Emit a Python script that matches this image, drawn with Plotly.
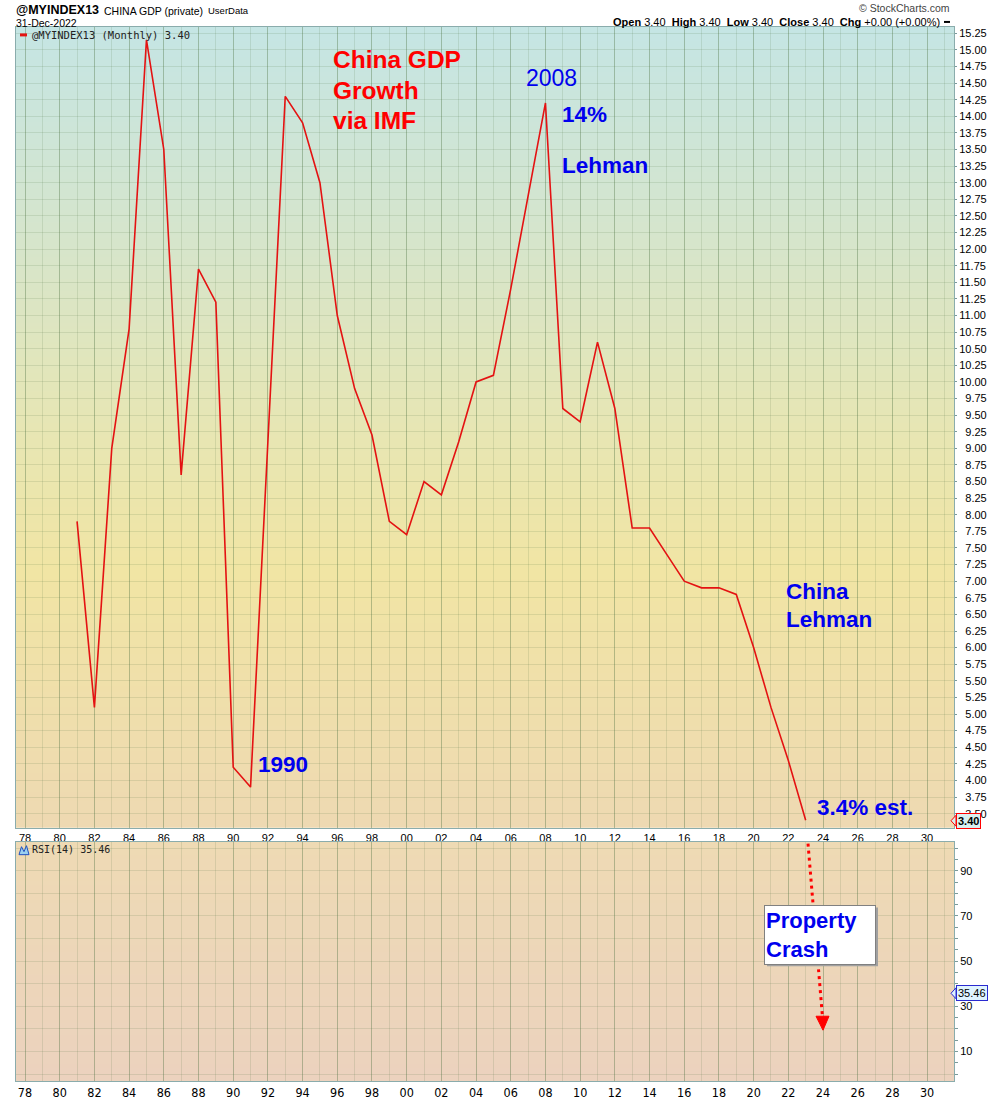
import zlib, struct, base64
import plotly.graph_objects as go

# ---------------- data ----------------
years = list(range(1981, 2024))
growth = [7.9, 5.1, 9.0, 10.8, 15.15, 13.5, 8.6, 11.7, 11.2, 4.2,
          3.9, 9.1, 14.3, 13.9, 13.0, 11.0, 9.9, 9.2, 7.9, 7.7,
          8.5, 8.3, 9.1, 10.0, 10.1, 11.4, 12.8, 14.2, 9.6, 9.4,
          10.6, 9.6, 7.8, 7.8, 7.4, 7.0, 6.9, 6.9, 6.8, 6.0,
          5.1, 4.3, 3.4]
last_value = 3.40
rsi_value = 35.46
date_label = "31-Dec-2022"

x_tick_years = list(range(1978, 2031, 2))
x_tick_text = ["%02d" % (y % 100) for y in x_tick_years]
y_tick_vals = [3.5 + 0.25 * i for i in range(48)]
y_tick_text = [("\u2007" if v < 10 else "") + "%.2f" % v for v in y_tick_vals]
rsi_tick_vals = [0, 5, 10, 15, 20, 25, 30, 35, 40, 45, 50, 55, 60, 65, 70, 75, 80, 85, 90, 95, 100]
rsi_tick_text = ["10" if v == 10 else "30" if v == 30 else "50" if v == 50 else
                 "70" if v == 70 else "90" if v == 90 else "" for v in rsi_tick_vals]

W, H = 1000, 1100
def PX(x): return x / W
def PY(y): return 1 - y / H

# ---------------- gradient background images ----------------
def lerp_stops(stops, n):
    rows = []
    for i in range(n):
        t = i / (n - 1)
        for j in range(len(stops) - 1):
            t0, c0 = stops[j]
            t1, c1 = stops[j + 1]
            if t0 <= t <= t1:
                f = (t - t0) / (t1 - t0) if t1 > t0 else 0
                rows.append(tuple(int(round(c0[k] + (c1[k] - c0[k]) * f)) for k in range(3)))
                break
    return rows

def png_uri(rows, w=2):
    h = len(rows)
    raw = b''.join(b'\x00' + bytes(c) * w for c in rows)
    def chunk(t, d):
        return struct.pack('>I', len(d)) + t + d + struct.pack('>I', zlib.crc32(t + d) & 0xffffffff)
    png = (b'\x89PNG\r\n\x1a\n' + chunk(b'IHDR', struct.pack('>IIBBBBB', w, h, 8, 2, 0, 0, 0))
           + chunk(b'IDAT', zlib.compress(raw)) + chunk(b'IEND', b''))
    return 'data:image/png;base64,' + base64.b64encode(png).decode()

main_stops = [(0.0, (197, 229, 228)), (0.25, (213, 229, 205)), (0.5, (231, 230, 180)),
              (0.68, (241, 229, 164)), (1.0, (238, 217, 178))]
rsi_stops = [(0.0, (238, 218, 180)), (1.0, (236, 210, 190))]

# panel geometry (pixels)
L, R = 16, 954
MT, MB = 27, 830
RT, RB = 844, 1084

fig = go.Figure()
fig.add_trace(go.Scatter(x=years, y=growth, mode='lines',
                         line=dict(color='rgb(228,18,18)', width=1.6),
                         xaxis='x', yaxis='y', showlegend=False, hoverinfo='skip'))
fig.add_trace(go.Scatter(x=[], y=[], mode='lines', xaxis='x2', yaxis='y2',
                         showlegend=False, hoverinfo='skip'))

grid_major = 'rgba(80,115,70,0.28)'
grid_minor = 'rgba(80,115,70,0.15)'
border = '#8aacac'
axfont = dict(family='Liberation Sans, Arial, sans-serif', size=11, color='black')
narrow = dict(family='Liberation Sans Narrow, DejaVu Sans Condensed, Arial Narrow, sans-serif',
              size=12.5, color='black')

xr = [1977.48, 2031.55]
common_x = dict(range=xr, autorange=False, tickmode='array', tickvals=x_tick_years,
                showgrid=True, gridcolor=grid_major, gridwidth=1,
                minor=dict(dtick=1, tick0=1978, showgrid=True, gridcolor=grid_minor, gridwidth=1),
                showline=True, linecolor=border, linewidth=1, mirror=True,
                ticks='', zeroline=False, fixedrange=True)

fig.update_layout(
    width=W, height=H, margin=dict(l=0, r=0, t=0, b=0),
    paper_bgcolor='white', plot_bgcolor='rgba(0,0,0,0)', showlegend=False,
    xaxis=dict(domain=[PX(L), PX(R)], anchor='y', ticktext=x_tick_text,
               tickfont=axfont, **common_x),
    yaxis=dict(domain=[PY(MB), PY(MT)], anchor='x', side='right',
               range=[3.288, 15.345], autorange=False,
               tickmode='array', tickvals=y_tick_vals, ticktext=y_tick_text,
               tickfont=axfont, ticks='outside', ticklen=2, tickcolor='#7a9a9a',
               showgrid=True, gridcolor=grid_minor, gridwidth=1,
               showline=True, linecolor=border, linewidth=1, mirror=True,
               zeroline=False, fixedrange=True),
    xaxis2=dict(domain=[PX(L), PX(R)], anchor='y2', ticktext=x_tick_text,
                tickfont=narrow, **common_x),
    yaxis2=dict(domain=[PY(RB), PY(RT)], anchor='x2', side='right',
                range=[-3.1, 102.9], autorange=False,
                tickmode='array', tickvals=rsi_tick_vals, ticktext=rsi_tick_text,
                tickfont=axfont, ticks='outside', ticklen=3, tickcolor='#7a9a9a',
                showgrid=False,
                showline=True, linecolor=border, linewidth=1, mirror=True,
                zeroline=False, fixedrange=True),
)

# RSI horizontal grid every 10 via minor grid
fig.update_layout(yaxis2=dict(minor=dict(tickmode='array', tickvals=list(range(0, 101, 10)),
                                         showgrid=True, gridcolor=grid_minor, ticks='')))

fig.add_layout_image(dict(source=png_uri(lerp_stops(main_stops, 256)), xref='paper', yref='paper',
                          x=PX(L), y=PY(MT), sizex=PX(R) - PX(L), sizey=PY(MT) - PY(MB),
                          sizing='stretch', layer='below', xanchor='left', yanchor='top'))
fig.add_layout_image(dict(source=png_uri(lerp_stops(rsi_stops, 64)), xref='paper', yref='paper',
                          x=PX(L), y=PY(RT), sizex=PX(R) - PX(L), sizey=PY(RT) - PY(RB),
                          sizing='stretch', layer='below', xanchor='left', yanchor='top'))

def txt(text, x, y, size=11, color='black', family='Liberation Sans, Arial, sans-serif',
        xanchor='left', yanchor='middle', **kw):
    fig.add_annotation(text=text, x=PX(x), y=PY(y), xref='paper', yref='paper',
                       xanchor=xanchor, yanchor=yanchor, showarrow=False,
                       font=dict(size=size, color=color, family=family), **kw)

# header
txt('<b>@MYINDEX13</b>', 14, 10, size=12.5)
txt('CHINA GDP (private)', 102, 11, size=10.5)
txt('UserData', 206, 11, size=9.5)
txt(date_label, 14, 23, size=10.5)
txt('\u00a9 StockCharts.com', 952, 8, size=10.5, color='#444', xanchor='right')
txt('<b>Open</b> %.2f  <b>High</b> %.2f  <b>Low</b> %.2f  <b>Close</b> %.2f  <b>Chg</b> +0.00 (+0.00%%)'
    % (last_value, last_value, last_value, last_value), 942, 22, size=11, xanchor='right')
fig.add_shape(type='line', xref='paper', yref='paper', x0=PX(944), x1=PX(950), y0=PY(22), y1=PY(22),
              line=dict(color='black', width=2))

mono = 'DejaVu Sans Mono, monospace'
fig.add_shape(type='line', xref='paper', yref='paper', x0=PX(20), x1=PX(27), y0=PY(35), y1=PY(35),
              line=dict(color='rgb(228,18,18)', width=3))
txt('@MYINDEX13 (Monthly) %.2f' % last_value, 30, 35, size=10.5, family=mono, color='#222')
fig.add_shape(type='path', xref='paper', yref='paper',
              path='M %f,%f L %f,%f L %f,%f L %f,%f L %f,%f Z' % (PX(19), PY(857), PX(21.5), PY(849),
                                                               PX(24), PY(854), PX(26.5), PY(848), PX(29), PY(857)),
              fillcolor='#9ad0f0', line=dict(color='#2050c0', width=1))
txt('RSI(14) %.2f' % rsi_value, 30, 852, size=10, family=mono, color='#222')

# value tags
fig.add_shape(type='path', xref='paper', yref='paper',
              path='M %f,%f L %f,%f L %f,%f Z' % (PX(951), PY(823), PX(956), PY(817.5), PX(956), PY(828.5)),
              fillcolor='#d8f0f0', line=dict(color='red', width=1))
txt('<b>%.2f</b>' % last_value, 956, 823, size=11, bgcolor='#d8f0f0', bordercolor='red',
    borderwidth=1, borderpad=1)
fig.add_shape(type='path', xref='paper', yref='paper',
              path='M %f,%f L %f,%f L %f,%f Z' % (PX(951), PY(996), PX(956), PY(990.5), PX(956), PY(1001.5)),
              fillcolor='#dff4ff', line=dict(color='#2a2ad0', width=1))
txt('%.2f' % rsi_value, 956, 996, size=11, bgcolor='#dff4ff', bordercolor='#2a2ad0',
    borderwidth=1, borderpad=1)

# chart commentary
RED = '#ff0000'
BLUE = '#0000ee'
bold = 'Liberation Sans, Arial, sans-serif'
txt('<b>China GDP</b>', 331, 60, size=24.5, color=RED)
txt('<b>Growth</b>', 331, 91, size=24.5, color=RED)
txt('<b>via IMF</b>', 331, 121, size=24.5, color=RED)
txt('2008', 551, 78, size=23, color=BLUE, xanchor='center')
txt('<b>14%</b>', 560, 115, size=22.5, color=BLUE)
txt('<b>Lehman</b>', 560, 166, size=22.5, color=BLUE)
txt('<b>China</b>', 784, 593, size=22.5, color=BLUE)
txt('<b>Lehman</b>', 784, 621, size=22.5, color=BLUE)
txt('<b>1990</b>', 256, 767, size=22.5, color=BLUE)
txt('<b>3.4% est.</b>', 815, 810, size=22.5, color=BLUE)

# dotted arrow
fig.add_shape(type='line', xref='paper', yref='paper', x0=PX(808), y0=PY(846), x1=PX(822.5), y1=PY(1020),
              line=dict(color='red', width=3, dash='3px,4px'))
fig.add_shape(type='path', xref='paper', yref='paper',
              path='M %f,%f L %f,%f L %f,%f Z' % (PX(816), PY(1019), PX(829), PY(1019), PX(823), PY(1033)),
              fillcolor='red', line=dict(color='red', width=1))
# box shadow + box
fig.add_shape(type='rect', xref='paper', yref='paper', x0=PX(767), y0=PY(910), x1=PX(878), y1=PY(969),
              fillcolor='#a0a0a0', line=dict(width=0))
fig.add_annotation(text='<b>Property<br>Crash</b>', x=PX(764), y=PY(907), xref='paper', yref='paper',
                   xanchor='left', yanchor='top', showarrow=False, align='left', valign='middle',
                   width=108, height=56, bgcolor='white', bordercolor='#808080', borderwidth=1,
                   borderpad=1, font=dict(size=22, color=BLUE, family=bold))

fig.write_html('out.html', config={'displayModeBar': False},
               post_script="document.body.style.margin='0px';document.body.style.overflow='hidden';")
